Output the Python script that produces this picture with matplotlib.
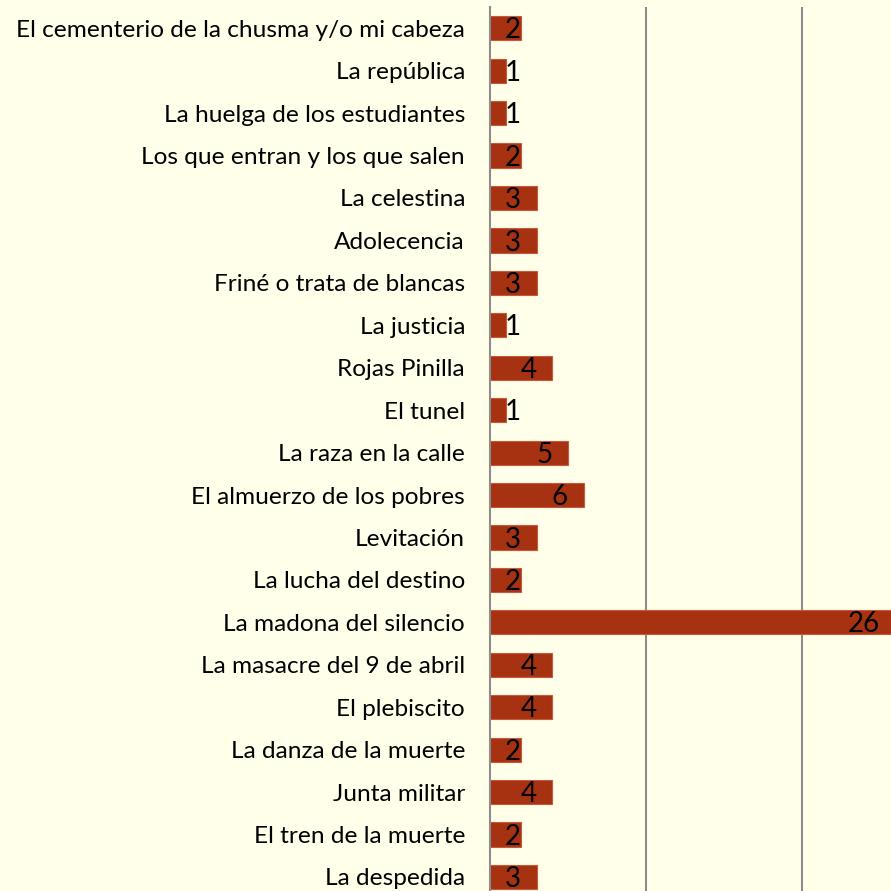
import matplotlib.pyplot as plt

obras = ['El cementerio de la chusma y/o mi cabeza', 'La república',
         'La huelga de los estudiantes', 'Los que entran y los que salen',
         'La celestina', 'Adolecencia', 'Friné o trata de blancas',
         'La justicia', 'Rojas Pinilla', 'El tunel', 'La raza en la calle',
         'El almuerzo de los pobres', 'Levitación', 'La lucha del destino',
         'La madona del silencio', 'La masacre del 9 de abril',
         'El plebiscito', 'La danza de la muerte', 'Junta militar',
         'El tren de la muerte', 'La despedida']
cantidad = [2, 1, 1, 2, 3, 3, 3, 1, 4, 1, 5, 6, 3, 2, 26, 4, 4, 2, 4, 2, 3]

plt.rcParams['font.family'] = ['Lato', 'DejaVu Sans']
fondo = '#FFFFEA'

fig = plt.figure(figsize=(8.91, 8.91), dpi=100, facecolor=fondo)
ax = fig.add_axes([490 / 891, 0, 401 / 891, 884 / 891], facecolor=fondo)

y = list(range(len(obras)))
ax.barh(y, cantidad, height=0.57, color='#A63212', edgecolor='#C8583A',
        linewidth=0.8, zorder=3)

# etiquetas de valor al final de cada barra
for i, v in enumerate(cantidad):
    ax.text(max(v - 1, 2), i + 0.05, str(v), ha='right', va='center',
            fontsize=20, color='black', zorder=4)

ax.set_xlim(0, 401 / 15.6)
ax.set_ylim(20.33, -0.5)
ax.set_yticks(y)
ax.set_yticklabels(obras, fontsize=17.6)
ax.set_xticks([10, 20])
ax.tick_params(axis='x', bottom=False, labelbottom=False)
ax.tick_params(axis='y', length=0, pad=18)
ax.grid(axis='x', color='#8C8C8C', linewidth=1.5, zorder=1)
for s in ['top', 'right', 'bottom']:
    ax.spines[s].set_visible(False)
ax.spines['left'].set_color('#8C8C8C')
ax.spines['left'].set_linewidth(1.5)
ax.spines['left'].set_zorder(5)

fig.savefig('out.png', dpi=100, facecolor=fondo)
